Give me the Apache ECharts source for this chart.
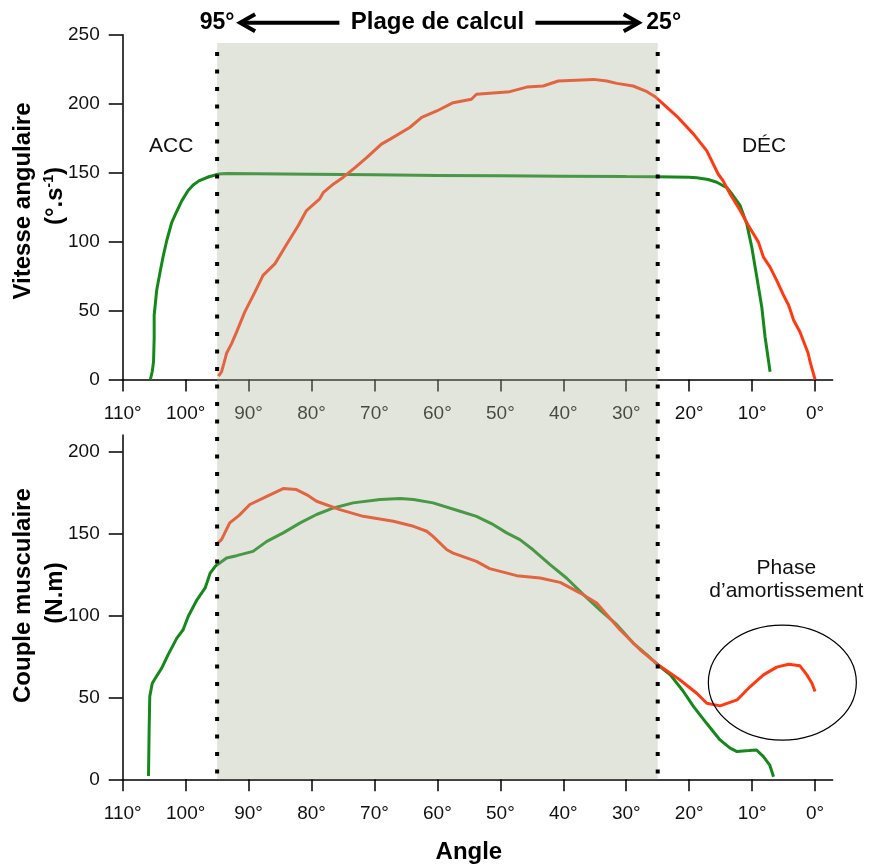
<!DOCTYPE html>
<html><head><meta charset="utf-8">
<script src="https://cdn.jsdelivr.net/npm/echarts@6/dist/echarts.min.js"></script>
<style>html,body{margin:0;padding:0;background:#fff}#c{width:869px;height:865px}</style>
</head><body><div id="c"></div>
<script>
// ---- data ----
const angleTicks = [0, 10, 20, 30, 40, 50, 60, 70, 80, 90, 100, 110];
const speedTicks = [0, 50, 100, 150, 200, 250];
const torqueTicks = [0, 50, 100, 150, 200];
const plage = [95, 25];

// Vitesse angulaire (°.s-1) vs angle
const vitesseVert = [[105.6,0],[105.3,6],[105.1,13],[105.0,30],[105.0,46.6],[104.6,64.7],[104.1,77],[103.6,88.7],[103.0,100.8],[102.2,114],[101.4,122],[100.6,129.7],[99.6,137],[98.8,141],[97.9,144],[96.3,147],[94.7,149],[93.5,149.3],[80,148.8],[70,148.4],[60,148],[50,147.7],[40,147.4],[30,147.1],[25,147],[20,146.6],[18.8,146.3],[17,145],[15.6,143],[14.6,140.5],[14.0,139],[13.2,134.5],[11.9,126],[10.85,112.8],[10.06,96],[9.26,74.3],[8.47,52.6],[7.95,31],[7.15,5.6]];
const vitesseRouge = [[94.8,2.5],[94.3,5.6],[93.9,12],[93.5,19],[92.7,26],[91.9,34.5],[90.6,49],[89.0,63.4],[87.7,75.5],[85.8,84],[83.9,98.4],[82.1,111.6],[80.8,122.5],[78.7,131],[78.1,135.7],[76.5,141.8],[75.0,146.5],[73,154],[71.2,161],[68.9,170.7],[67.5,174.3],[64.4,182.7],[62.5,190],[60.1,194.7],[57.5,200.7],[54.6,203.2],[53.8,206.8],[48.5,208.7],[45.8,212],[43.2,212.8],[40.8,216.4],[35.2,217.6],[33.1,216.4],[31.5,214.7],[28.9,212.8],[26.7,208.7],[25.4,205],[24.1,199.6],[22,191],[19.3,177.9],[17.2,165.8],[15.4,149],[14.6,144],[13.5,134.5],[11.9,122.5],[10.6,111.6],[9.0,99.6],[8.2,88.7],[7.15,81.5],[6.1,71.9],[5.0,61],[4.2,53.8],[3.4,43],[2.4,34.5],[1.1,19],[0.8,12.9],[0,0]];

// Couple musculaire (N.m) vs angle
const coupleVert = [[105.9,2],[105.8,30],[105.7,50.5],[105.3,58.6],[104.6,63],[103.8,67.8],[102.8,75.9],[101.4,86.1],[100.4,91.2],[99.6,99.3],[98.2,109.5],[96.9,116.7],[96.1,125.8],[95.3,129.9],[93.5,135],[91.9,136.4],[89.3,139],[87.1,145.1],[84.5,150.3],[81.8,156.4],[79.2,161.5],[76.5,165.5],[73.4,168.6],[69.1,170.6],[65.9,171.2],[63.8,170.6],[60.7,168.6],[56.4,163.5],[53.8,160.4],[51.1,155.3],[49.0,150.3],[46.9,146.2],[44.8,140],[42.1,130.9],[39.5,122.8],[36.8,112.6],[34.2,103.4],[31.5,94.3],[28.9,83.1],[26.7,75.9],[24.9,69.5],[23.0,63.7],[21,54],[19.3,44.3],[17.2,34],[15.1,24],[13.5,19],[12.4,16.9],[10.5,17.5],[9.3,17.9],[8.2,13.8],[7.2,8.7],[6.6,1.6]];
const coupleRouge = [[95.2,143.1],[94.3,146.2],[93.0,156.4],[91.5,161],[89.8,167.6],[87.1,172.6],[84.5,177.3],[82.4,176.7],[80.5,173],[79.2,169.6],[75.5,164.5],[71.8,160.4],[67.0,157.4],[63.8,154.3],[61.7,151.3],[60.7,148.2],[58.5,140],[57.5,138],[53.8,132.9],[51.7,128.5],[47.4,124.2],[43.7,122.8],[40.5,120.1],[37.3,113.6],[34.7,107.5],[31.0,91.2],[27.8,79],[24.9,69.8],[24.6,68.8],[21.5,60.7],[18.8,52.5],[17.2,46.4],[15.1,44.8],[12.4,48.4],[10.3,56.6],[8.2,63.7],[6.1,68.4],[4.2,70.2],[2.4,69.2],[1.3,63.7],[0.5,58.6],[0,53.5]];

// ---- chart ----
const FONT = "'Liberation Sans', Arial, Helvetica, sans-serif";
const GREEN = '#14891a', RED = '#ff3a12';
const chart = echarts.init(document.getElementById('c'), null, {renderer: 'canvas'});

function makeX(idx) {
  return {
    type: 'value', gridIndex: idx, min: -2.8, max: 110, inverse: true, position: 'bottom',
    axisLine: {show: true, onZero: false, lineStyle: {color: '#000', width: 1.5}},
    axisTick: {show: true, length: 12, customValues: angleTicks, lineStyle: {color: '#000', width: 1.5}},
    axisLabel: {customValues: angleTicks, formatter: v => v + '°', color: '#111', fontSize: 19, fontFamily: FONT, margin: 25},
    splitLine: {show: false}
  };
}
function makeY(idx, max, ticks) {
  return {
    type: 'value', gridIndex: idx, min: 0, max: max, position: 'left',
    axisLine: {show: true, onZero: false, lineStyle: {color: '#000', width: 1.5}},
    axisTick: {show: true, length: 14, customValues: ticks, lineStyle: {color: '#000', width: 1.5}},
    axisLabel: {customValues: ticks, color: '#111', fontSize: 19, fontFamily: FONT, margin: 23},
    splitLine: {show: false}
  };
}
function line(idx, data, color) {
  return {type: 'line', xAxisIndex: idx, yAxisIndex: idx, data: data, showSymbol: false, symbol: 'none',
          lineStyle: {color: color, width: 3}, z: 3, silent: true};
}

chart.setOption({
  animation: false,
  backgroundColor: '#fff',
  grid: [
    {left: 122.7, right: 36.3, top: 34.7, height: 344.8},
    {left: 122.7, right: 36.3, top: 435, height: 344.3}
  ],
  xAxis: [makeX(0), makeX(1)],
  yAxis: [makeY(0, 250, speedTicks), makeY(1, 210, torqueTicks)],
  series: [
    line(0, vitesseVert, GREEN), line(0, vitesseRouge, RED),
    line(1, coupleVert, GREEN), line(1, coupleRouge, RED)
  ]
});

const px = (g, x, y) => chart.convertToPixel({xAxisIndex: g, yAxisIndex: g}, [x, y]);
const tl = px(0, plage[0], 244), br = px(1, plage[1], 0);
const x95 = px(0, plage[0], 0)[0], x25 = px(0, plage[1], 0)[0];
const xMid = px(0, 60, 0)[0];
const yTop = px(0, 0, 250)[1] - 12;
const dotTop = px(0, 0, 237.5)[1];
const g = [];
// shading (translucent layer over everything)
g.push({type: 'rect', z: 50, silent: true, shape: {x: tl[0], y: tl[1], width: br[0] - tl[0], height: br[1] - tl[1]},
        style: {fill: 'rgba(172,181,155,0.35)'}});
// dotted limits
[x95, x25].forEach(x => g.push({type: 'line', z: 60, silent: true, shape: {x1: x, y1: dotTop, x2: x, y2: br[1]},
        style: {stroke: '#000', lineWidth: 4, lineDash: [4, 13.5]}}));
// header
const bold = (t, x, y, size) => ({type: 'text', z: 70, x: x, y: y, style: {text: t, font: 'bold ' + size + 'px ' + FONT, fill: '#000', textAlign: 'center', textVerticalAlign: 'middle'}});
g.push(bold('95°', x95, yTop, 23));
g.push(bold('25°', x25 + 6, yTop, 23));
g.push(bold('Plage de calcul', xMid, yTop, 24));
const lTip = x95 + 23, lTail = xMid - 98, rTail = xMid + 98, rTip = x25 - 19;
g.push({type: 'polyline', z: 70, shape: {points: [[lTail, yTop], [lTip + 2, yTop]]}, style: {stroke: '#000', lineWidth: 4, fill: null}});
g.push({type: 'polyline', z: 70, shape: {points: [[lTip + 15, yTop - 8.5], [lTip, yTop], [lTip + 15, yTop + 8.5]]}, style: {stroke: '#000', lineWidth: 4, fill: null, lineJoin: 'miter'}});
g.push({type: 'polyline', z: 70, shape: {points: [[rTail, yTop], [rTip - 2, yTop]]}, style: {stroke: '#000', lineWidth: 4, fill: null}});
g.push({type: 'polyline', z: 70, shape: {points: [[rTip - 15, yTop - 8.5], [rTip, yTop], [rTip - 15, yTop + 8.5]]}, style: {stroke: '#000', lineWidth: 4, fill: null, lineJoin: 'miter'}});
// phase labels
const reg = (t, p, extra) => Object.assign({type: 'text', z: 70, x: p[0], y: p[1], style: {text: t, font: '21px ' + FONT, fill: '#111', textAlign: 'center', textVerticalAlign: 'middle', lineHeight: 23.5}}, extra || {});
g.push(reg('ACC', px(0, 102.3, 169.4)));
g.push(reg('DÉC', px(0, 8.1, 169.4)));
g.push(reg('Phase\nd’amortissement', px(1, 4.56, 121.7)));
const ec = px(1, 5.2, 59);
g.push({type: 'ellipse', z: 70, shape: {cx: ec[0], cy: ec[1], rx: 74, ry: 57.5}, style: {stroke: '#000', lineWidth: 1.2, fill: null}});
// axis titles
const axBottom = px(1, 0, 0)[1];
g.push(bold('Angle', px(1, 55, 0)[0], axBottom + 73, 24));
const vt = (t, x, y, rich) => ({type: 'text', z: 70, x: x, y: y, rotation: Math.PI / 2,
  style: {text: t, font: 'bold 24px ' + FONT, fill: '#000', align: 'center', verticalAlign: 'middle', rich: rich}});
const rich = {b: {font: 'bold 24px ' + FONT, fill: '#000'}, sup: {font: 'bold 14px ' + FONT, fill: '#000', verticalAlign: 'top', padding: [0, 0, 12, 0]}};
g.push(vt('Vitesse angulaire', 23, 201));
g.push(vt('{b|(°.s}{sup|-1}{b|)}', 55, 196, rich));
g.push(vt('Couple musculaire', 23, 595.6));
g.push(vt('(N.m)', 55, 593));
chart.setOption({graphic: g});
</script></body></html>
